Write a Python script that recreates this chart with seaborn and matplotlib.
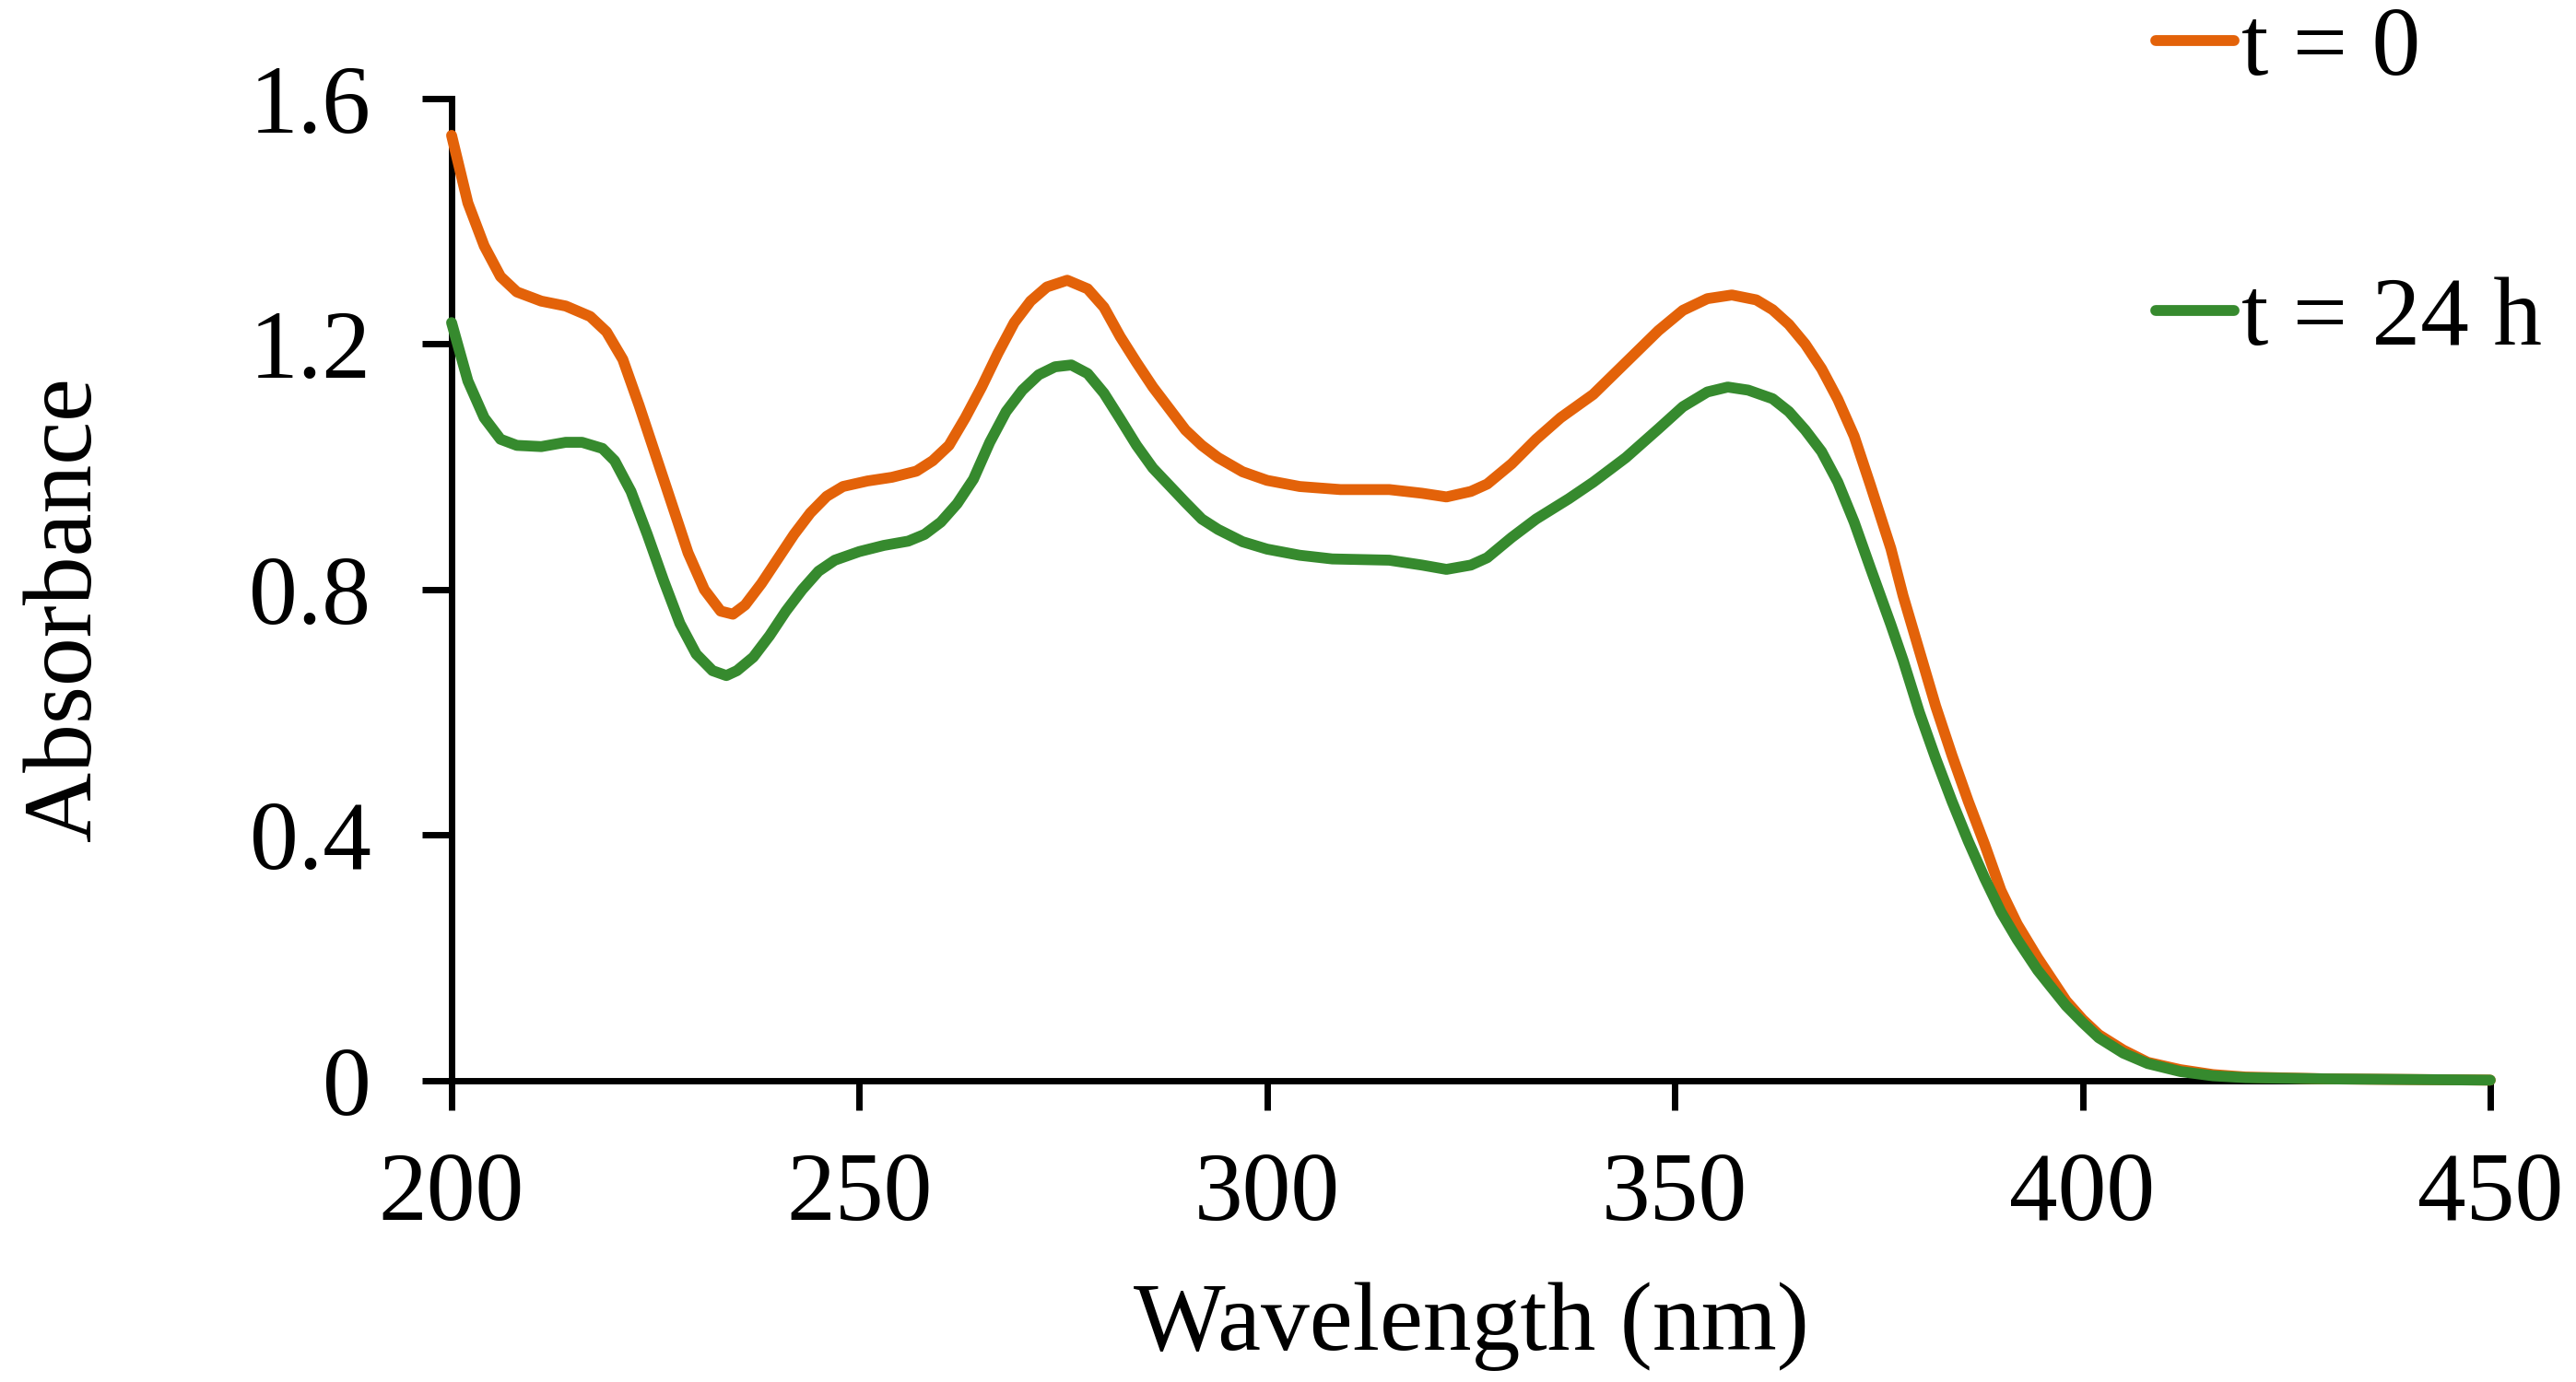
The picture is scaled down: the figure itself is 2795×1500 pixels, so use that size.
import matplotlib
matplotlib.use('Agg')
import matplotlib.pyplot as plt
import seaborn as sns
import pandas as pd

# spectra
wl_t0 = [200, 202, 204, 206, 208, 211, 214, 217, 219, 221, 223, 225, 227, 229,
         231, 233, 234.5, 236, 238, 240, 242, 244, 246, 248, 251, 254, 257, 259,
         261, 263, 265, 267, 269, 271, 273, 275.5, 278, 280, 282, 284, 286, 288,
         290, 292, 294, 297, 300, 304, 309, 315, 319, 322, 325, 327, 330, 333,
         336, 340, 344, 348, 351, 354, 357, 360, 362, 364, 366, 368, 370, 372,
         374, 376.5, 378, 380, 382, 384, 386, 388, 390, 392, 394.5, 396, 398,
         400, 402, 405, 408, 412, 416, 420, 430, 440, 450]
abs_t0 = [1.54, 1.43, 1.36, 1.31, 1.285, 1.27, 1.262, 1.245, 1.22, 1.175, 1.10,
          1.02, 0.94, 0.86, 0.80, 0.765, 0.760, 0.775, 0.81, 0.85, 0.89, 0.925,
          0.952, 0.968, 0.977, 0.983, 0.993, 1.01, 1.035, 1.08, 1.13, 1.185,
          1.235, 1.27, 1.293, 1.304, 1.29, 1.26, 1.212, 1.17, 1.13, 1.095, 1.06,
          1.035, 1.015, 0.992, 0.978, 0.968, 0.963, 0.963, 0.957, 0.951, 0.96,
          0.972, 1.005, 1.045, 1.08, 1.118, 1.17, 1.222, 1.255, 1.274, 1.28,
          1.272, 1.256, 1.232, 1.20, 1.16, 1.11, 1.05, 0.97, 0.867, 0.79, 0.70,
          0.61, 0.53, 0.455, 0.385, 0.31, 0.255, 0.20, 0.17, 0.13, 0.10, 0.075,
          0.05, 0.03, 0.018, 0.01, 0.006, 0.003, 0.002, 0.001]

wl_t24 = [200, 202, 204, 206, 208, 211, 214, 216, 218.5, 220, 222, 224, 226,
          228, 230, 232, 233.7, 235, 237, 239, 241, 243, 245, 247, 250, 253, 256,
          258, 260, 262, 264, 266, 268, 270, 272, 274, 276, 278, 280, 282, 284,
          286, 288, 290, 292, 294, 297, 300, 304, 308, 315, 319, 322, 325, 327,
          330, 333, 337, 340, 344, 348, 351, 354, 356.5, 359, 362, 364, 366, 368,
          370, 372, 374, 376.5, 378, 380, 382, 384, 386, 388, 390, 392, 394.5,
          396, 398, 400, 402, 405, 408, 412, 416, 420, 430, 440, 450]
abs_t24 = [1.235, 1.14, 1.08, 1.045, 1.035, 1.033, 1.04, 1.04, 1.03, 1.01, 0.96,
           0.89, 0.815, 0.745, 0.695, 0.668, 0.66, 0.668, 0.69, 0.725, 0.765,
           0.80, 0.83, 0.848, 0.862, 0.872, 0.879, 0.89, 0.91, 0.94, 0.98, 1.04,
           1.09, 1.125, 1.15, 1.163, 1.166, 1.152, 1.12, 1.078, 1.035, 0.998,
           0.97, 0.942, 0.915, 0.898, 0.878, 0.866, 0.856, 0.85, 0.848, 0.84,
           0.833, 0.84, 0.852, 0.885, 0.915, 0.948, 0.975, 1.015, 1.062, 1.098,
           1.122, 1.13, 1.125, 1.111, 1.09, 1.06, 1.025, 0.975, 0.91, 0.835,
           0.743, 0.685, 0.60, 0.525, 0.455, 0.39, 0.33, 0.275, 0.23, 0.18,
           0.155, 0.122, 0.095, 0.07, 0.045, 0.028, 0.015, 0.008, 0.005, 0.003,
           0.002, 0.001]

series_labels = ['t = 0', 't = 24 h']
line_colors = ['#E36209', '#368A2E']
x_ticks = [200, 250, 300, 350, 400, 450]
y_ticks = [0, 0.4, 0.8, 1.2, 1.6]
y_tick_labels = ['0', '0.4', '0.8', '1.2', '1.6']

df = pd.concat([
    pd.DataFrame({'Wavelength': wl_t0, 'Absorbance': abs_t0, 'Series': series_labels[0]}),
    pd.DataFrame({'Wavelength': wl_t24, 'Absorbance': abs_t24, 'Series': series_labels[1]}),
], ignore_index=True)

sns.set_theme(style='ticks')
plt.rcParams['font.family'] = ['Liberation Serif', 'DejaVu Serif']
plt.rcParams['text.color'] = 'black'
plt.rcParams['axes.labelcolor'] = 'black'
fs = 76

fig = plt.figure(figsize=(27.95, 15), dpi=100)
ax = fig.add_axes([0.1753, 0.218, 0.7914, 0.7107])

sns.lineplot(data=df, x='Wavelength', y='Absorbance', hue='Series',
             palette=line_colors, hue_order=series_labels, estimator=None,
             sort=False, linewidth=8.5, ax=ax)

for line in ax.lines:
    line.set_solid_capstyle('round')
    line.set_solid_joinstyle('round')
    line.set_clip_on(False)
    line.set_zorder(3)

ax.set_xlim(200, 450)
ax.set_ylim(0, 1.6)
ax.set_xticks(x_ticks)
ax.set_yticks(y_ticks)
ax.set_yticklabels(y_tick_labels)

sns.despine(ax=ax)
for side in ['left', 'bottom']:
    ax.spines[side].set_linewidth(5)
    ax.spines[side].set_color('black')
ax.tick_params(direction='out', length=23, width=5, labelsize=fs,
               colors='black')
ax.tick_params(axis='y', pad=40)
ax.tick_params(axis='x', pad=33)

ax.set_xlabel('Wavelength (nm)', fontsize=fs)
ax.set_ylabel('Absorbance', fontsize=fs)
ax.xaxis.set_label_coords(0.5, -0.205)
ax.yaxis.set_label_coords(-0.167, 0.48)

handles, labels = ax.get_legend_handles_labels()
ax.get_legend().remove()
for h in handles:
    h.set_solid_capstyle('round')
fig.legend(handles, labels, loc='upper left', bbox_to_anchor=(0.837, 0.995),
           frameon=False, fontsize=fs, handlelength=0.8, handletextpad=0.08,
           labelspacing=1.85, borderpad=0, borderaxespad=0)

plt.savefig('out.png', dpi=100)
